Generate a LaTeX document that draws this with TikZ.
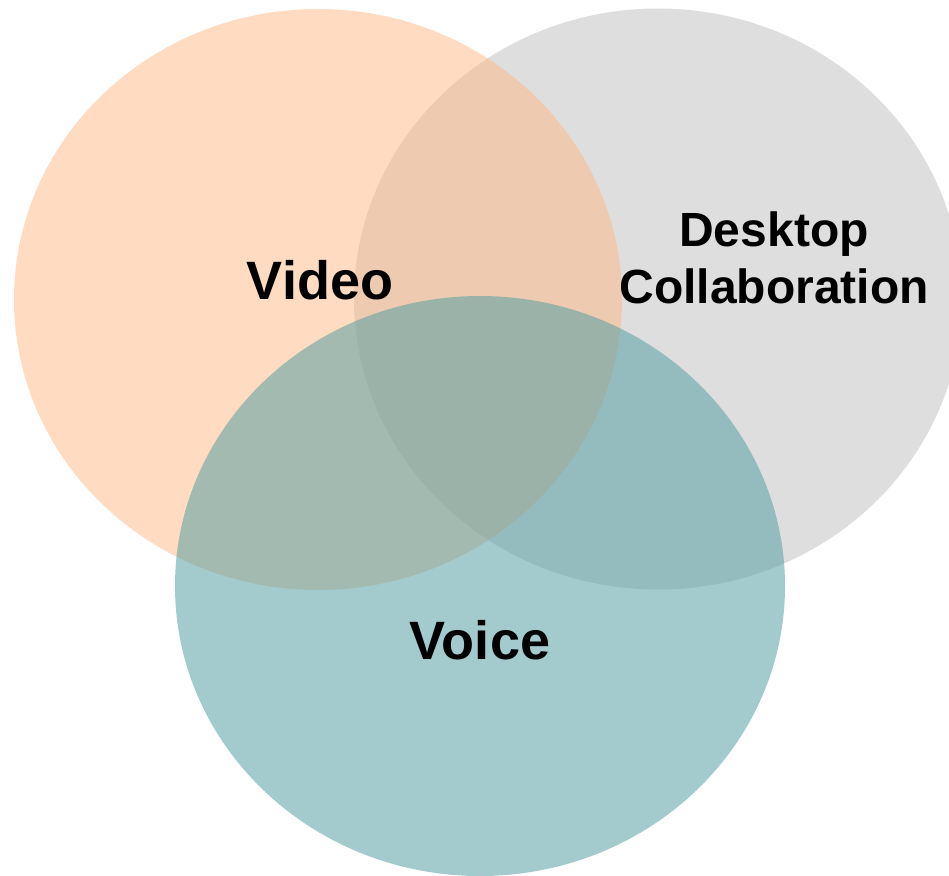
\documentclass[tikz,border=0pt]{standalone}
\usepackage{fontspec}
\setmainfont{Liberation Sans}
\usetikzlibrary{shapes.geometric}
\definecolor{peach}{RGB}{253,183,131}
\definecolor{lightgrey}{RGB}{222,222,222}
\definecolor{teal}{RGB}{88,160,164}

\begin{document}
\begin{tikzpicture}
[x=1pt, y=-1pt,
 circ/.style={ellipse, inner sep=0pt, minimum width=608pt, minimum height=581pt},
 lbl/.style={font=\bfseries\fontsize{54}{57}\selectfont, align=center},
 lblsmall/.style={font=\bfseries\fontsize{48}{57}\selectfont, align=center}]
    \useasboundingbox (0,0) rectangle (949,875);
    \node[circ, fill=lightgrey](desktop) at (658,299) {};
    \node[circ, fill=peach, fill opacity=.5](video) at (318,299.5) {};
    \node[circ, fill=teal, fill opacity=.55, minimum width=610pt, minimum height=580pt](voice) at (480,586) {};
    \node[lbl](videotext) at (320,280) {Video};
    \node[lblsmall](desktoptext) at (774,258) {Desktop\\Collaboration};
    \node[lbl](voicetext) at (480,640) {Voice};
\end{tikzpicture}
\end{document}
